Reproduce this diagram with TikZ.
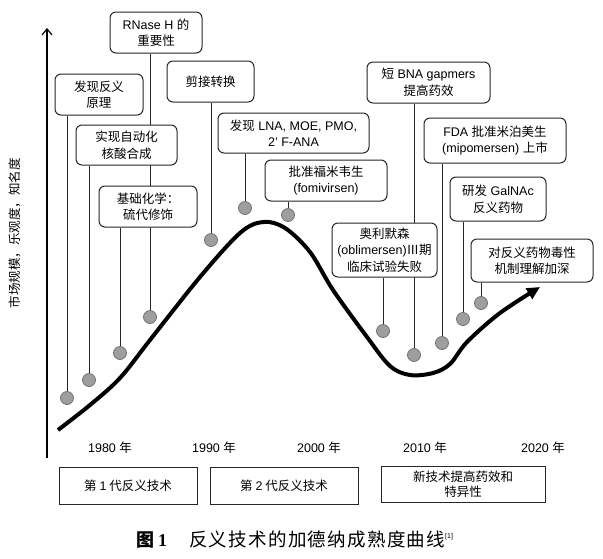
\documentclass[tikz,border=0pt]{standalone}
\usepackage{fontspec}
\setmainfont{Liberation Sans}
\newfontfamily\cjk{Noto Sans CJK SC}
\newfontfamily\capfont[LetterSpace=7]{Noto Sans CJK SC}
\newfontfamily\serifb{Liberation Serif}
\usetikzlibrary{arrows.meta}
\pgfdeclarelayer{bg}
\pgfsetlayers{bg,main}
\newcommand{\C}[1]{{\cjk #1}}
\tikzset{
  evbox/.style={draw=black!85, line width=1pt, rounded corners=6pt, fill=white, align=center, inner sep=0pt, font=\fontsize{12.5}{16.5}\selectfont},
  dot/.style={circle, fill=black!38, draw=black!55, line width=0.8pt, minimum size=13pt, inner sep=0pt},
  stem/.style={line width=0.9pt, draw=black!85},
  erabox/.style={draw=black!85, line width=1pt, fill=white, align=center, inner sep=0pt, font=\cjk\fontsize{12.5}{15}\selectfont},
  yr/.style={font=\fontsize{12.5}{15}\selectfont, inner sep=0pt}
}
\begin{document}
\begin{tikzpicture}[x=1pt,y=-1pt]
\useasboundingbox (0,0) rectangle (603,558);

% axis
\coordinate (ax0) at (47,458);
\coordinate (ax1) at (47,28);
\draw[line width=1.4pt, -{Straight Barb[length=6pt,width=10pt,line width=1.2pt]}] (ax0) -- (ax1);
\node[rotate=90, font=\cjk\fontsize{12.5}{15}\selectfont, inner sep=0pt] (ylab) at (15,233) {市场规模，乐观度，知名度};

% event boxes
\node[evbox, minimum width=92pt, minimum height=41pt] (b1) at (156,32.5) {RNase H \C{的}\\\C{重要性}};
\node[evbox, minimum width=88pt, minimum height=41pt] (b2) at (99,94.5) {\C{发现反义}\\\C{原理}};
\node[evbox, minimum width=101pt, minimum height=40pt] (b3) at (126.5,145) {\C{实现自动化}\\\C{核酸合成}};
\node[evbox, minimum width=98pt, minimum height=41pt] (b4) at (148,206.5) {\C{基础化学：}\\\C{硫代修饰}};
\node[evbox, minimum width=87pt, minimum height=41pt] (b5) at (210.5,81.5) {\C{剪接转换}};
\node[evbox, minimum width=151pt, minimum height=40pt] (b6) at (293.5,133) {\C{发现} LNA, MOE, PMO,\\2’ F-ANA};
\node[evbox, minimum width=122pt, minimum height=41pt] (b7) at (326,180.5) {\C{批准福米韦生}\\(fomivirsen)};
\node[evbox, minimum width=123pt, minimum height=41pt] (b8) at (428.5,82.5) {\C{短} BNA gapmers\\\C{提高药效}};
\node[evbox, minimum width=142pt, minimum height=45pt] (b9) at (495,140.5) {FDA \C{批准米泊美生}\\(mipomersen) \C{上市}};
\node[evbox, minimum width=96pt, minimum height=44pt] (b10) at (498,199) {\C{研发} GalNAc\\\C{反义药物}};
\node[evbox, minimum width=105pt, minimum height=54pt] (b11) at (384.5,250) {\C{奥利默森}\\(oblimersen)\C{Ⅲ期}\\\C{临床试验失败}};
\node[evbox, minimum width=122pt, minimum height=43pt] (b12) at (532,260.5) {\C{对反义药物毒性}\\\C{机制理解加深}};

% dots
\node[dot] (c1) at (150,317) {};
\node[dot] (c2) at (67,398) {};
\node[dot] (c3) at (89,380) {};
\node[dot] (c4) at (120,353) {};
\node[dot] (c5) at (211,240) {};
\node[dot] (c6) at (245,208) {};
\node[dot] (c7) at (288,215) {};
\node[dot] (c8) at (414,355) {};
\node[dot] (c9) at (442,343) {};
\node[dot] (c10) at (463,319) {};
\node[dot] (c11) at (383,331) {};
\node[dot] (c12) at (481,303) {};

\begin{pgfonlayer}{bg}
\foreach \i in {1,...,12} {
  \draw[stem] (c\i |- b\i.south) -- (c\i.center);
}
\end{pgfonlayer}

% hype curve
\draw[line width=4pt, line join=round, -{Triangle[length=13pt,width=12pt]}]
  plot[smooth, tension=0.55] coordinates {(58,430) (90,405) (120,378) (150,340) (200,277) (240,233) (263,222) (285,228) (310,252) (333,290) (367,337) (390,366) (410,375) (433,373) (450,364) (467,342) (500,313) (540,287)};

% years
\node[yr] (y1) at (110,448) {1980 \C{年}};
\node[yr] (y2) at (214,448) {1990 \C{年}};
\node[yr] (y3) at (319,448) {2000 \C{年}};
\node[yr] (y4) at (425,448) {2010 \C{年}};
\node[yr] (y5) at (543,448) {2020 \C{年}};

% generation boxes
\node[erabox, minimum width=138pt, minimum height=37pt] (g1) at (128,485.5) {第 {\rmfamily 1} 代反义技术};
\node[erabox, minimum width=148pt, minimum height=37pt] (g2) at (284,485.5) {第 {\rmfamily 2} 代反义技术};
\node[erabox, minimum width=164pt, minimum height=36pt] (g3) at (463,484) {新技术提高药效和\\特异性};

% caption
\node[anchor=west, inner sep=0pt] (cap) at (136,540) {{\cjk\bfseries\fontsize{18}{20}\selectfont 图}\hspace{4pt}{\serifb\bfseries\fontsize{18}{20}\selectfont 1}\hspace{22pt}{\capfont\fontsize{18.5}{20}\selectfont 反义技术的加德纳成熟度曲线}\raisebox{8pt}{\fontsize{7}{8}\selectfont [1]}};
\end{tikzpicture}
\end{document}
